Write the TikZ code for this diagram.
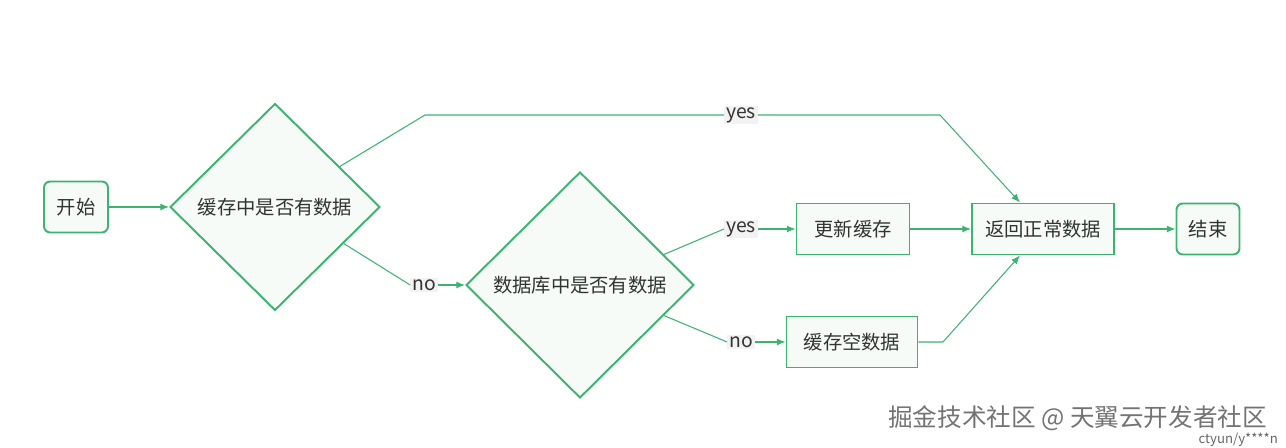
\documentclass[tikz,border=0pt]{standalone}
\usepackage{fontspec}
\setmainfont{Noto Sans CJK SC}
\usetikzlibrary{shapes.geometric,arrows.meta}
\definecolor{flowgreen}{HTML}{3CB371}
\definecolor{flowfill}{HTML}{F6FBF7}
\definecolor{tagfill}{HTML}{F2F2F2}

\begin{document}
\begin{tikzpicture}[x=0.02cm, y=-0.02cm,
    box/.style={draw=flowgreen, line width=1.1pt, fill=flowfill, inner sep=0pt,
        font=\fontsize{11}{13}\selectfont, text=black!80},
    term/.style={box, rounded corners=3.5pt, minimum height=1.02cm},
    proc/.style={box, minimum height=1.02cm},
    decision/.style={box, diamond, inner sep=1pt},
    tag/.style={fill=tagfill, inner sep=1pt, font=\fontsize{11}{13}\selectfont, text=black!80},
    line/.style={draw=flowgreen, line width=0.6pt},
    link/.style={line, -{Latex[length=5pt,width=4pt]}},
    wmark/.style={font=\fontsize{14}{16}\selectfont, text=black!55}]
    \useasboundingbox (0,0) rectangle (1286,448);
    % nodes
    \node[term, minimum width=1.28cm] (start) at (76,207) {开始};
    \node[decision, minimum width=4.2cm, minimum height=4.14cm] (cache) at (275,207) {缓存中是否有数据};
    \node[decision, minimum width=4.56cm, minimum height=4.52cm] (db) at (580,285) {数据库中是否有数据};
    \node[proc, minimum width=2.26cm] (update) at (853,229) {更新缓存};
    \node[proc, minimum width=2.62cm] (empty) at (852,342) {缓存空数据};
    \node[proc, minimum width=2.84cm] (ret) at (1043,229) {返回正常数据};
    \node[term, minimum width=1.26cm] (stop) at (1208,229) {结束};
    % labels
    \node[tag] (yesA) at (741,115) {yes};
    \node[tag] (noA) at (424,285) {no};
    \node[tag] (yesB) at (741,229) {yes};
    \node[tag] (noB) at (741,342) {no};
    % connectors
    \draw[link] (start) -- (cache);
    \draw[line] (cache.32) -- (425,115) -- (yesA);
    \draw[link] (yesA) -- (940,115) -- ([xshift=-0.46cm]ret.north);
    \draw[line] (cache.-28) -- (noA.west);
    \draw[link] (noA) -- (db);
    \draw[line] (db.20) -- (yesB.west);
    \draw[link] (yesB) -- (update);
    \draw[line] (db.-20) -- (noB.west);
    \draw[link] (noB) -- (empty);
    \draw[link] (update) -- (ret);
    \draw[link] (empty.east) -- (943,342) -- ([xshift=-0.46cm]ret.south);
    \draw[link] (ret) -- (stop);
    % watermark
    \node[wmark, anchor=west] (wm) at (882,418) {掘金技术社区 @ 天翼云开发者社区};
    \node[anchor=east, font=\fontsize{7.5}{8}\selectfont, text=black!60] (wmuser) at (1284,440) {ctyun/y****n};
\end{tikzpicture}
\end{document}
